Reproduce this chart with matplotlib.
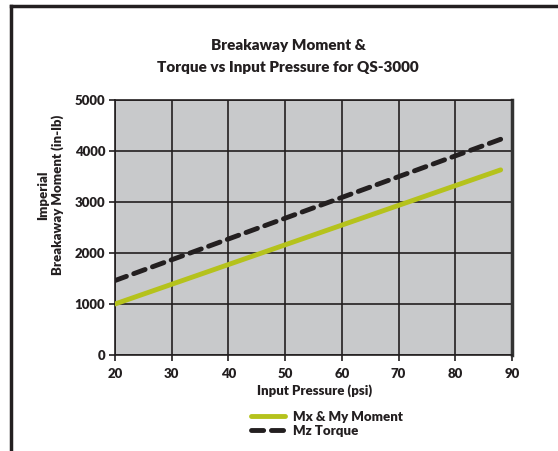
import matplotlib
matplotlib.use("Agg")
import matplotlib.pyplot as plt
from matplotlib.lines import Line2D

plt.rcParams['font.family'] = ['Lato', 'DejaVu Sans']
WT = 'heavy'

pressure = [20, 88]
mx_my_moment = [1000, 3630]
mz_torque = [1460, 4230]
xticks = [20, 30, 40, 50, 60, 70, 80, 90]
yticks = [0, 1000, 2000, 3000, 4000, 5000]

W, H = 558, 451
fig = plt.figure(figsize=(W/100, H/100), dpi=100)
ax = fig.add_axes([115/W, 1-355/H, (512-115)/W, (355-100)/H])
ax.set_facecolor('#c8c9cb')
ax.plot(pressure, mx_my_moment, color='#b5c21c', lw=3.5, solid_capstyle='round', zorder=3)
ax.plot(pressure, mz_torque, color='#231f20', lw=3.5, dashes=(2.5, 1.6), dash_capstyle='round', zorder=3)
ax.set_xlim(20, 90)
ax.set_ylim(0, 5000)
ax.set_xticks(xticks)
ax.set_yticks(yticks)
ax.grid(True, color='#231f20', lw=1.2, zorder=1)
ax.set_axisbelow(True)
for s in ['left', 'bottom', 'top']:
    ax.spines[s].set_color('#231f20')
    ax.spines[s].set_linewidth(1.2)
ax.spines['right'].set_color('#333333')
ax.spines['right'].set_linewidth(2.5)
ax.tick_params(direction='out', length=4, width=1.2, color='#231f20', labelsize=9.5, pad=3)
ax.tick_params(axis='x', pad=5)
for lab in ax.get_xticklabels() + ax.get_yticklabels():
    lab.set_fontweight(WT)
    lab.set_color('#231f20')

fig.text(288/W, 1-45/H, 'Breakaway Moment &', ha='center', va='center', fontsize=11, fontweight=WT, color='#231f20')
fig.text(288/W, 1-67/H, 'Torque vs Input Pressure for QS-3000', ha='center', va='center', fontsize=11, fontweight=WT, color='#231f20')
fig.text(315/W, 1-391/H, 'Input Pressure (psi)', ha='center', va='center', fontsize=9.5, fontweight=WT, color='#231f20')
fig.text(51/W, 1-195/H, 'Imperial\nBreakaway Moment (in-lb)', ha='center', va='center', rotation=90,
         fontsize=9.5, fontweight=WT, color='#231f20', linespacing=1.2)

handles = [Line2D([], [], color='#b5c21c', lw=3.5, solid_capstyle='round'),
           Line2D([], [], color='#231f20', lw=3.5, dashes=(2.5, 1.6), dash_capstyle='round')]
leg = fig.legend(handles, ['Mx & My Moment', 'Mz Torque'], loc='center left',
                 bbox_to_anchor=(239/W, 1-424/H), frameon=False, handlelength=2.6,
                 handletextpad=0.6, labelspacing=0.15, prop={'weight': WT, 'size': 9.5})
for t in leg.get_texts():
    t.set_color('#231f20')

# frame lines (top and left)
fig.add_artist(Line2D([11/W, 1], [1-6/H, 1-6/H], color='#231f20', lw=2.5, transform=fig.transFigure))
fig.add_artist(Line2D([11/W, 11/W], [0, 1-6/H], color='#231f20', lw=2.5, transform=fig.transFigure))

fig.savefig('out.png', dpi=100)
